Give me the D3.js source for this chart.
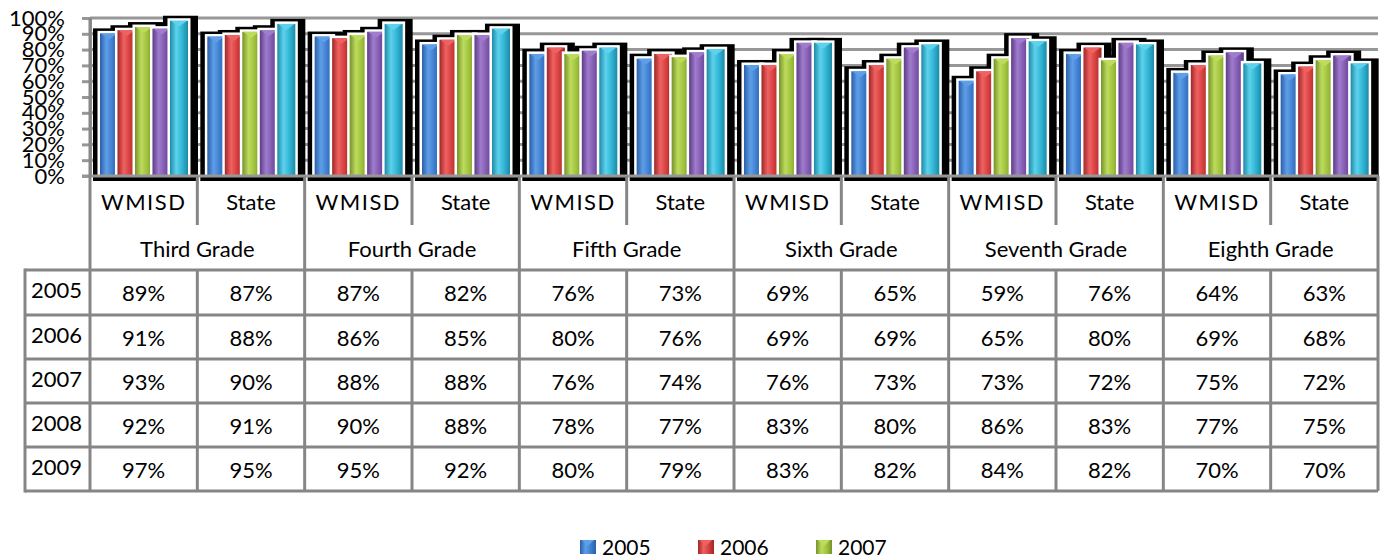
<!DOCTYPE html>
<html>
<head>
<meta charset="utf-8">
<script src="https://cdn.jsdelivr.net/npm/d3@7/dist/d3.min.js"></script>
<style>
  html, body { margin: 0; padding: 0; background: #fff; }
  svg { display: block; font-family: Lato, "Open Sans", sans-serif; }
</style>
</head>
<body>
<svg id="chart" width="1384" height="559"></svg>
<script>
// ---------- DATA ----------
const categories = ["WMISD","State","WMISD","State","WMISD","State","WMISD","State","WMISD","State","WMISD","State"];
const grades = ["Third Grade","Fourth Grade","Fifth Grade","Sixth Grade","Seventh Grade","Eighth Grade"];
const years = ["2005","2006","2007","2008","2009"];
const v2005 = [89,87,87,82,76,73,69,65,59,76,64,63];
const v2006 = [91,88,86,85,80,76,69,69,65,80,69,68];
const v2007 = [93,90,88,88,76,74,76,73,73,72,75,72];
const v2008 = [92,91,90,88,78,77,83,80,86,83,77,75];
const v2009 = [97,95,95,92,80,79,83,82,84,82,70,70];
const series = [v2005, v2006, v2007, v2008, v2009];
const yTicks = [0,10,20,30,40,50,60,70,80,90,100];
const legendYears = ["2005","2006","2007"];

// ---------- STYLE ----------
const palette = [
  {dark:"#2a5ea8", base:"#3c7ccc", light:"#5f9fe8"},
  {dark:"#a12626", base:"#d23c3c", light:"#f06262"},
  {dark:"#76922a", base:"#9dbf3a", light:"#bddc5e"},
  {dark:"#5d3b86", base:"#7e57ad", light:"#a07ccd"},
  {dark:"#1d8aa6", base:"#2fb3d3", light:"#5ed2ec"}
];
const gridColor = "#979797";

const svg = d3.select("#chart");
const defs = svg.append("defs");
palette.forEach((p, i) => {
  const g = defs.append("linearGradient").attr("id", "g" + i)
    .attr("x1", 0).attr("x2", 1).attr("y1", 0).attr("y2", 0);
  g.append("stop").attr("offset", "0%").attr("stop-color", p.dark);
  g.append("stop").attr("offset", "35%").attr("stop-color", p.light);
  g.append("stop").attr("offset", "70%").attr("stop-color", p.base);
  g.append("stop").attr("offset", "100%").attr("stop-color", p.dark);
});

const left = 90, right = 1378, tableLeft = 25;
const x = d3.scaleBand().domain(d3.range(categories.length)).range([left, right]);
const xg = d3.scaleBand().domain(d3.range(grades.length)).range([left, right]);
const y = d3.scaleLinear().domain([0, 100]).range([176, 18]);
const bw = x.bandwidth();
const inner = d3.scaleLinear().domain([0, years.length - 1]).range([bw * 0.093, bw * 0.745]);
const barW = bw * 0.168;
const capLift = 2;

// gridlines
svg.append("g").selectAll("line").data(yTicks.filter(t => t > 0)).join("line")
  .attr("x1", left).attr("x2", right)
  .attr("y1", d => y(d)).attr("y2", d => y(d))
  .attr("stroke", gridColor).attr("stroke-width", 3);

// flatten bars
const bars = [];
categories.forEach((c, ci) => {
  series.forEach((s, si) => {
    bars.push({ci, si, v: s[ci], x: x(ci) + inner(si)});
  });
});

// black shadow silhouette
svg.append("g").selectAll("rect").data(bars).join("rect")
  .attr("x", d => d.x - 7).attr("width", barW + 17)
  .attr("y", d => y(d.v) - capLift - 5).attr("height", d => 181 - (y(d.v) - capLift - 5))
  .attr("fill", "#000");

// bars
const bg = svg.append("g");
bars.forEach(d => {
  const top = y(d.v) - capLift;
  const g = bg.append("g");
  g.append("rect").attr("x", d.x - 2.5).attr("width", barW + 5)
    .attr("y", top - 2.5).attr("height", y(0) - top + 2.5)
    .attr("fill", "#fff");
  g.append("rect").attr("x", d.x).attr("width", barW)
    .attr("y", top).attr("height", y(0) - top)
    .attr("fill", "url(#g" + d.si + ")");
  g.append("path")
    .attr("d", `M${d.x + 1},${top} L${d.x + barW - 1},${top} L${d.x + barW / 2},${top + 6} Z`)
    .attr("fill", palette[d.si].light);
});

// y axis
const yAxis = svg.append("g").attr("transform", `translate(${left},0)`)
  .call(d3.axisLeft(y).tickValues(yTicks).tickFormat(d => d + "%").tickSize(8).tickPadding(17).tickSizeOuter(0));
yAxis.select(".domain").attr("stroke", gridColor).attr("stroke-width", 3);
yAxis.selectAll(".tick line").attr("stroke", gridColor).attr("stroke-width", 3);
yAxis.selectAll(".tick text").attr("font-size", 22).attr("fill", "#000")
  .attr("font-family", "Lato, sans-serif");

// x axis line
svg.append("line").attr("x1", left - 8).attr("x2", right).attr("y1", y(0)).attr("y2", y(0))
  .attr("stroke", gridColor).attr("stroke-width", 3);

// ---------- TABLE ----------
const rowTops = [176, 225, 270, 315, 359, 403, 447, 491];
const tl = svg.append("g").attr("stroke", "#868686").attr("stroke-width", 3);
tl.append("line").attr("x1", left).attr("x2", left).attr("y1", y(100)).attr("y2", rowTops[7]);
d3.range(1, categories.length).forEach(i => {
  const xx = x(i);
  const isGroup = i % 2 === 0;
  tl.append("line").attr("x1", xx).attr("x2", xx).attr("y1", y(0))
    .attr("y2", isGroup ? rowTops[7] : rowTops[1]);
  if (!isGroup) {
    tl.append("line").attr("x1", xx).attr("x2", xx).attr("y1", rowTops[2]).attr("y2", rowTops[7]);
  }
});
tl.append("line").attr("x1", right).attr("x2", right).attr("y1", y(0)).attr("y2", rowTops[7]);
tl.append("line").attr("x1", tableLeft).attr("x2", tableLeft).attr("y1", rowTops[2] - 1.5).attr("y2", rowTops[7] + 1.5);
rowTops.slice(2).forEach(ry => {
  tl.append("line").attr("x1", tableLeft).attr("x2", right).attr("y1", ry).attr("y2", ry);
});

const txt = svg.append("g").attr("font-size", 22).attr("fill", "#000")
  .attr("font-family", "Lato, sans-serif").attr("dominant-baseline", "central");
categories.forEach((c, i) => {
  txt.append("text").attr("x", x(i) + bw / 2).attr("y", 201).attr("text-anchor", "middle")
    .attr("letter-spacing", c === "WMISD" ? 1.5 : 0).text(c);
});
grades.forEach((g, i) => {
  txt.append("text").attr("x", xg(i) + xg.bandwidth() / 2).attr("y", 248).attr("text-anchor", "middle").text(g);
});
years.forEach((yr, r) => {
  const cy = (rowTops[r + 2] + rowTops[r + 3]) / 2;
  txt.append("text").attr("x", 31).attr("y", cy - 3).text(yr);
  series[r].forEach((v, i) => {
    txt.append("text").attr("x", x(i) + bw / 2).attr("y", cy).attr("text-anchor", "middle").text(v + "%");
  });
});

// ---------- LEGEND ----------
const lg = svg.append("g").attr("transform", "translate(580,546)");
legendYears.forEach((yr, i) => {
  const g = lg.append("g").attr("transform", `translate(${i * 118},0)`);
  g.append("rect").attr("x", 0).attr("y", -6).attr("width", 16).attr("height", 14)
    .attr("fill", "url(#g" + years.indexOf(yr) + ")");
  g.append("path").attr("d", "M2,-6 L14,-6 L8,0 Z").attr("fill", palette[years.indexOf(yr)].light);
  g.append("text").attr("x", 22).attr("y", 0).attr("dominant-baseline", "central")
    .attr("font-size", 21).attr("font-family", "Lato, sans-serif").text(yr);
});
</script>
</body>
</html>
